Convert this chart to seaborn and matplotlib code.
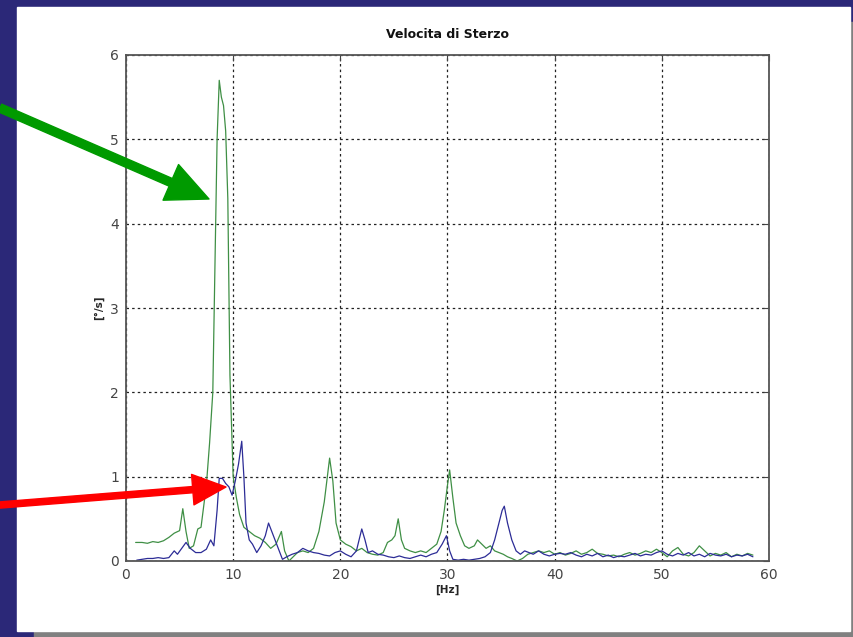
import matplotlib
matplotlib.use("Agg")
import matplotlib.pyplot as plt
from matplotlib.patches import Rectangle, FancyArrowPatch
import seaborn as sns
import pandas as pd

# green trace (larger response)
freq_green = [0.9, 1.5, 2.0, 2.5, 3.0, 3.5, 4.0, 4.5, 5.0, 5.3, 5.6, 5.9, 6.3, 6.7, 7.0,
              7.5, 7.8, 8.1, 8.3, 8.5, 8.7, 8.9, 9.1, 9.3, 9.5, 9.7, 10.0, 10.3, 10.6,
              11.0, 11.5, 12.0, 12.5, 13.0, 13.5, 14.0, 14.5, 14.8, 15.2, 15.6, 16.0,
              16.5, 17.0, 17.5, 18.0, 18.5, 19.0, 19.3, 19.6, 20.0, 20.5, 21.0, 21.5,
              22.0, 22.5, 23.0, 23.5, 24.0, 24.4, 24.8, 25.1, 25.4, 25.7, 26.0, 26.5,
              27.0, 27.5, 28.0, 28.5, 29.0, 29.4, 29.7, 30.0, 30.2, 30.5, 30.8, 31.2,
              31.6, 32.0, 32.5, 32.8, 33.2, 33.6, 34.0, 34.4, 34.8, 35.2, 35.6, 36.0,
              36.5, 37.0, 37.5, 38.0, 38.5, 39.0, 39.5, 40.0, 40.5, 41.0, 41.5, 42.0,
              42.5, 43.0, 43.5, 44.0, 44.5, 45.0, 45.5, 46.0, 46.5, 47.0, 47.5, 48.0,
              48.5, 49.0, 49.5, 50.0, 50.5, 51.0, 51.5, 52.0, 52.5, 53.0, 53.5, 54.0,
              54.5, 55.0, 55.5, 56.0, 56.5, 57.0, 57.5, 58.0, 58.5]
vel_green = [0.22, 0.22, 0.21, 0.23, 0.22, 0.24, 0.28, 0.33, 0.36, 0.62, 0.35, 0.15, 0.18,
             0.38, 0.40, 0.90, 1.40, 2.00, 3.50, 5.00, 5.70, 5.50, 5.40, 5.10, 4.30, 2.20,
             1.00, 0.75, 0.55, 0.40, 0.35, 0.30, 0.27, 0.22, 0.15, 0.20, 0.35, 0.12, 0.00,
             0.05, 0.10, 0.12, 0.10, 0.15, 0.35, 0.70, 1.22, 0.95, 0.45, 0.25, 0.20, 0.17,
             0.12, 0.15, 0.10, 0.08, 0.07, 0.10, 0.22, 0.25, 0.30, 0.50, 0.25, 0.15, 0.12,
             0.10, 0.12, 0.10, 0.15, 0.20, 0.35, 0.60, 0.90, 1.08, 0.75, 0.45, 0.30, 0.18,
             0.15, 0.18, 0.25, 0.20, 0.15, 0.18, 0.12, 0.10, 0.08, 0.05, 0.03, 0.00, 0.03,
             0.08, 0.10, 0.12, 0.10, 0.12, 0.08, 0.10, 0.07, 0.09, 0.12, 0.08, 0.10, 0.14,
             0.09, 0.08, 0.06, 0.07, 0.05, 0.08, 0.10, 0.07, 0.09, 0.12, 0.10, 0.14, 0.10,
             0.05, 0.12, 0.16, 0.08, 0.06, 0.10, 0.18, 0.12, 0.06, 0.09, 0.07, 0.10, 0.05,
             0.08, 0.06, 0.09, 0.07]

# blue trace
freq_blue = [1.0, 1.5, 2.0, 2.5, 3.0, 3.5, 4.0, 4.5, 4.8, 5.2, 5.6, 6.0, 6.5, 7.0, 7.5,
             7.9, 8.2, 8.5, 8.7, 9.0, 9.3, 9.6, 9.9, 10.2, 10.5, 10.8, 11.0, 11.2, 11.5,
             11.8, 12.2, 12.6, 13.0, 13.3, 13.6, 14.0, 14.3, 14.6, 15.0, 15.5, 16.0, 16.5,
             17.0, 17.5, 18.0, 18.5, 19.0, 19.5, 20.0, 20.5, 21.0, 21.5, 22.0, 22.3, 22.6,
             23.0, 23.5, 24.0, 24.5, 25.0, 25.5, 26.0, 26.5, 27.0, 27.5, 28.0, 28.5, 29.0,
             29.5, 29.9, 30.2, 30.5, 31.0, 31.5, 32.0, 32.5, 33.0, 33.5, 34.0, 34.4, 34.8,
             35.1, 35.3, 35.6, 36.0, 36.4, 36.8, 37.2, 37.6, 38.0, 38.5, 39.0, 39.5, 40.0,
             40.5, 41.0, 41.5, 42.0, 42.5, 43.0, 43.5, 44.0, 44.5, 45.0, 45.5, 46.0, 46.5,
             47.0, 47.5, 48.0, 48.5, 49.0, 49.5, 50.0, 50.5, 51.0, 51.5, 52.0, 52.5, 53.0,
             53.5, 54.0, 54.5, 55.0, 55.5, 56.0, 56.5, 57.0, 57.5, 58.0, 58.5]
vel_blue = [0.01, 0.02, 0.03, 0.03, 0.04, 0.03, 0.04, 0.12, 0.08, 0.15, 0.22, 0.15, 0.10,
            0.10, 0.14, 0.25, 0.18, 0.60, 0.98, 0.98, 0.92, 0.88, 0.78, 0.95, 1.15, 1.42,
            1.00, 0.45, 0.25, 0.20, 0.10, 0.18, 0.30, 0.45, 0.35, 0.22, 0.12, 0.02, 0.05,
            0.08, 0.10, 0.15, 0.12, 0.10, 0.09, 0.07, 0.06, 0.10, 0.12, 0.08, 0.05, 0.12,
            0.38, 0.25, 0.10, 0.12, 0.08, 0.07, 0.05, 0.04, 0.06, 0.04, 0.03, 0.05, 0.07,
            0.05, 0.08, 0.10, 0.20, 0.30, 0.12, 0.02, 0.01, 0.02, 0.01, 0.02, 0.03, 0.05,
            0.10, 0.25, 0.45, 0.60, 0.65, 0.45, 0.25, 0.12, 0.08, 0.12, 0.10, 0.08, 0.12,
            0.08, 0.06, 0.08, 0.09, 0.08, 0.10, 0.07, 0.05, 0.08, 0.06, 0.09, 0.05, 0.07,
            0.04, 0.06, 0.05, 0.07, 0.09, 0.06, 0.08, 0.07, 0.10, 0.12, 0.08, 0.06, 0.09,
            0.07, 0.10, 0.06, 0.08, 0.05, 0.09, 0.07, 0.06, 0.08, 0.05, 0.07, 0.06, 0.08,
            0.05]

x_ticks = [0, 10, 20, 30, 40, 50, 60]
y_ticks = [0, 1, 2, 3, 4, 5, 6]

df_green = pd.DataFrame({"Hz": freq_green, "vel": vel_green})
df_blue = pd.DataFrame({"Hz": freq_blue, "vel": vel_blue})

sns.set_style("white")
plt.rcParams["font.family"] = ["DejaVu Sans"]

fig = plt.figure(figsize=(8.54, 6.37), dpi=100)
fig.patch.set_facecolor("#2b2878")

# slide panel with grey shadow (behind the axes)
fig.patches.append(Rectangle((34 / 854, 0), 1 - 34 / 854, 1 - 22 / 637,
                             transform=fig.transFigure, color="#808080", zorder=-2))
fig.patches.append(Rectangle((17 / 854, 6 / 637), (850 - 17) / 854, (631 - 7) / 637,
                             transform=fig.transFigure, color="white", zorder=-1))

ax = fig.add_axes([126 / 854, 1 - 561 / 637, (769 - 126) / 854, (561 - 55) / 637])
ax.set_facecolor("white")

sns.lineplot(data=df_green, x="Hz", y="vel", ax=ax, color="#3f8f45", lw=0.9, sort=False)
sns.lineplot(data=df_blue, x="Hz", y="vel", ax=ax, color="#2c2c96", lw=0.9, sort=False)

ax.set_xlim(0, 60)
ax.set_ylim(0, 6)
ax.set_xticks(x_ticks)
ax.set_yticks(y_ticks)
ax.grid(True, color="#222222", linestyle=(0, (2, 2.5)), lw=0.9)
ax.tick_params(direction="in", top=True, right=True, length=4, labelsize=10,
               labelcolor="#444444", color="#444444", pad=5)
for s in ax.spines.values():
    s.set_color("#555555")
    s.set_linewidth(1.3)

ax.set_title("Velocita di Sterzo", fontsize=9, fontweight="bold", pad=12, color="#111111")
ax.set_xlabel("[Hz]", fontsize=7.5, fontweight="bold", labelpad=2)
ax.set_ylabel("[°/s]", fontsize=7.5, fontweight="bold", labelpad=4)

# pointer arrows (figure pixels, origin bottom-left)
green_arrow = FancyArrowPatch((0, 637 - 108), (209, 637 - 199),
                              transform=None, mutation_scale=1, shrinkA=0, shrinkB=0,
                              arrowstyle="simple,head_length=30,head_width=28,tail_width=6",
                              color="#009a00", zorder=10)
red_arrow = FancyArrowPatch((0, 637 - 505), (226, 637 - 487),
                            transform=None, mutation_scale=1, shrinkA=0, shrinkB=0,
                            arrowstyle="simple,head_length=24,head_width=22,tail_width=4.5",
                            color="#ff0000", zorder=10)
fig.patches.append(green_arrow)
fig.patches.append(red_arrow)

fig.savefig("out.png", dpi=100, facecolor=fig.get_facecolor())
